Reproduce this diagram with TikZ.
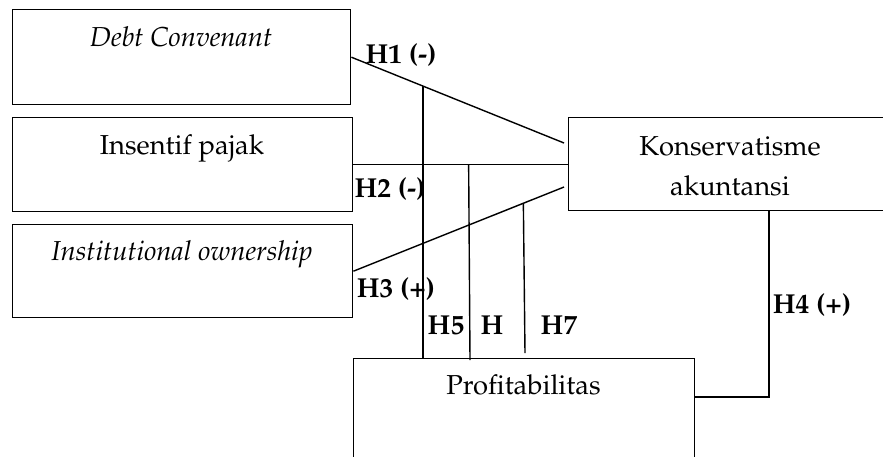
\documentclass[tikz,border=0pt]{standalone}
\usepackage[T1]{fontenc}
\usepackage{mathpazo}
\usetikzlibrary{calc}
\tikzset{
  box/.style={draw,inner sep=0pt,anchor=north west},
  txt/.style={anchor=base,inner sep=0pt},
  hyp/.style={anchor=base,inner sep=0pt,font=\bfseries}
}
\begin{document}
\begin{tikzpicture}[x=0.5pt,y=-0.5pt,line width=0.7pt]
\fontsize{13.7}{16}\selectfont
\useasboundingbox (0,0) rectangle (883,456);
\clip (0,0) rectangle (883,456);
% variables
\node[box,minimum width=169pt,minimum height=47.5pt] (debt) at (12,9) {};
\node[box,minimum width=170pt,minimum height=47pt] (insentif) at (12,117) {};
\node[box,minimum width=170pt,minimum height=46.5pt] (inst) at (12,224) {};
\node[box,minimum width=170pt,minimum height=46.5pt] (kons) at (568,117) {};
\node[box,minimum width=170.5pt,minimum height=60pt] (prof) at (353,358) {};
\node[txt,font=\itshape] (debttxt) at (181,46) {Debt Convenant};
\node[txt] (insentiftxt) at (182,154) {Insentif pajak};
\node[txt,font=\itshape] (insttxt) at (182,260) {Institutional ownership};
\node[txt] (konstxta) at (730,155) {Konservatisme};
\node[txt] (konstxtb) at (730,195) {akuntansi};
\node[txt] (proftxt) at (523.5,394) {Profitabilitas};
% paths
\coordinate (k1) at (564,143);
\coordinate (k3) at (564,187);
\draw (debt.east) -- (k1);
\draw (insentif.east) -- (insentif.east -| kons.west);
\draw (inst.east) -- (k3);
\coordinate (t5) at ($(debt.east)!0.336!(k1)$);
\coordinate (t6) at ($(insentif.east)!0.537!(kons.west)$);
\coordinate (t7) at ($(inst.east)!0.807!(k3)$);
\coordinate (b6) at (470,360);
\coordinate (b7) at (525,353);
\draw (t5) -- (t5 |- prof.north);
\draw (t6) -- (b6);
\draw (t7) -- (b7);
\coordinate (p4) at (694,397);
\coordinate (k4) at (769,210);
\draw (p4) -| (k4);
% labels
\node[hyp] (h1) at (401,63) {H1 (-)};
\node[hyp] (h2) at (390,197) {H2 (-)};
\node[hyp] (h3) at (396,297) {H3 (+)};
\node[hyp] (h5) at (446,334) {H5};
\node[hyp] (h6) at (492,334) {H};
\node[hyp] (h7) at (559,334) {H7};
\node[hyp] (h4) at (812,313) {H4 (+)};
\end{tikzpicture}
\end{document}
